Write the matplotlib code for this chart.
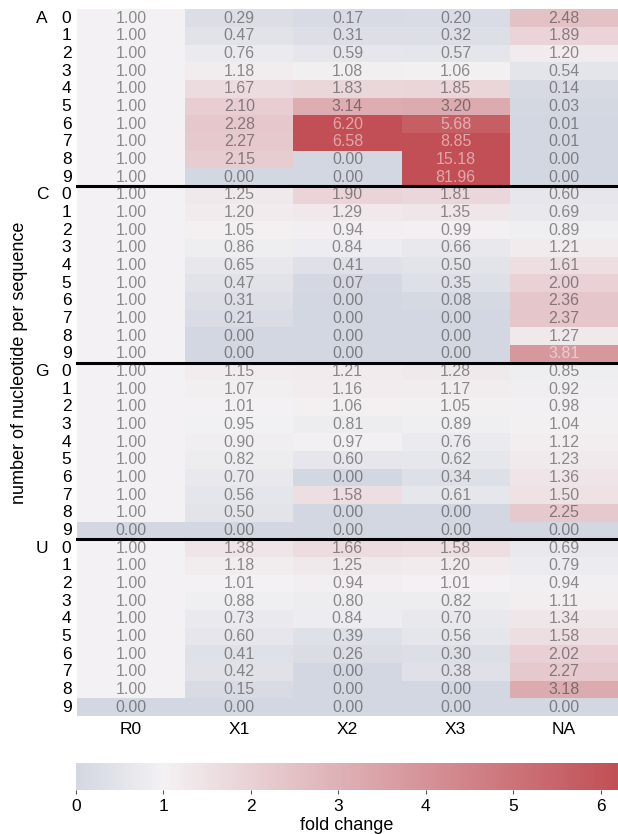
import numpy as np
import pandas as pd
import seaborn as sns
import matplotlib
matplotlib.use('Agg')
import matplotlib.pyplot as plt
from matplotlib.colors import LinearSegmentedColormap

plt.rcParams['font.family'] = ['Liberation Sans', 'DejaVu Sans']

columns = ['R0', 'X1', 'X2', 'X3', 'NA']
bases = ['A', 'C', 'G', 'U']
positions = list(range(10))

# fold change per base, rows = 0..9, cols = R0 X1 X2 X3 NA
fc_A = [[1.00, 0.29, 0.17, 0.20, 2.48],
        [1.00, 0.47, 0.31, 0.32, 1.89],
        [1.00, 0.76, 0.59, 0.57, 1.20],
        [1.00, 1.18, 1.08, 1.06, 0.54],
        [1.00, 1.67, 1.83, 1.85, 0.14],
        [1.00, 2.10, 3.14, 3.20, 0.03],
        [1.00, 2.28, 6.20, 5.68, 0.01],
        [1.00, 2.27, 6.58, 8.85, 0.01],
        [1.00, 2.15, 0.00, 15.18, 0.00],
        [1.00, 0.00, 0.00, 81.96, 0.00]]
fc_C = [[1.00, 1.25, 1.90, 1.81, 0.60],
        [1.00, 1.20, 1.29, 1.35, 0.69],
        [1.00, 1.05, 0.94, 0.99, 0.89],
        [1.00, 0.86, 0.84, 0.66, 1.21],
        [1.00, 0.65, 0.41, 0.50, 1.61],
        [1.00, 0.47, 0.07, 0.35, 2.00],
        [1.00, 0.31, 0.00, 0.08, 2.36],
        [1.00, 0.21, 0.00, 0.00, 2.37],
        [1.00, 0.00, 0.00, 0.00, 1.27],
        [1.00, 0.00, 0.00, 0.00, 3.81]]
fc_G = [[1.00, 1.15, 1.21, 1.28, 0.85],
        [1.00, 1.07, 1.16, 1.17, 0.92],
        [1.00, 1.01, 1.06, 1.05, 0.98],
        [1.00, 0.95, 0.81, 0.89, 1.04],
        [1.00, 0.90, 0.97, 0.76, 1.12],
        [1.00, 0.82, 0.60, 0.62, 1.23],
        [1.00, 0.70, 0.00, 0.34, 1.36],
        [1.00, 0.56, 1.58, 0.61, 1.50],
        [1.00, 0.50, 0.00, 0.00, 2.25],
        [0.00, 0.00, 0.00, 0.00, 0.00]]
fc_U = [[1.00, 1.38, 1.66, 1.58, 0.69],
        [1.00, 1.18, 1.25, 1.20, 0.79],
        [1.00, 1.01, 0.94, 1.01, 0.94],
        [1.00, 0.88, 0.80, 0.82, 1.11],
        [1.00, 0.73, 0.84, 0.70, 1.34],
        [1.00, 0.60, 0.39, 0.56, 1.58],
        [1.00, 0.41, 0.26, 0.30, 2.02],
        [1.00, 0.42, 0.00, 0.38, 2.27],
        [1.00, 0.15, 0.00, 0.00, 3.18],
        [0.00, 0.00, 0.00, 0.00, 0.00]]

data = pd.DataFrame(np.vstack([fc_A, fc_C, fc_G, fc_U]), columns=columns)
ylabels = [str(p) for b in bases for p in positions]

vmax = 6.2
cmap = LinearSegmentedColormap.from_list(
    'fc', [(0, '#d3d7e1'), (1 / vmax, '#f3f1f3'), (3 / vmax, '#deb1b6'), (1, '#c14f55')])

fig = plt.figure(figsize=(6.18, 8.34), dpi=100)
ax = fig.add_axes([0.1246, 0.1415, 0.8754, 0.8475])
cax = fig.add_axes([0.123, 0.0528, 0.877, 0.0324])

sns.heatmap(data, ax=ax, cbar_ax=cax, cmap=cmap, vmin=0, vmax=vmax,
            annot=True, fmt='.2f', annot_kws={'fontsize': 11.5, 'alpha': 0.5},
            cbar_kws={'orientation': 'horizontal'},
            xticklabels=columns, yticklabels=ylabels)

ax.tick_params(length=0, labelsize=12.5, pad=4)
ax.set_yticklabels(ylabels, rotation=0)
ax.set_ylabel('number of nucleotide per sequence', fontsize=13, labelpad=24)
for i in [10, 20, 30]:
    ax.axhline(i, color='black', lw=2.2, clip_on=False)
for k, b in enumerate(bases):
    ax.annotate(b, xy=(0, 10 * k + 0.5), xycoords=('axes fraction', 'data'),
                xytext=(-25, 0), textcoords='offset points',
                ha='center', va='center', fontsize=12.5)

cax.tick_params(labelsize=12.5, length=3, width=0.8, color='#555555')
cax.set_xlabel('fold change', fontsize=13, labelpad=2)
cax.set_xticks([0, 1, 2, 3, 4, 5, 6])
for s in cax.spines.values():
    s.set_visible(False)

fig.savefig('out.png', dpi=100)
